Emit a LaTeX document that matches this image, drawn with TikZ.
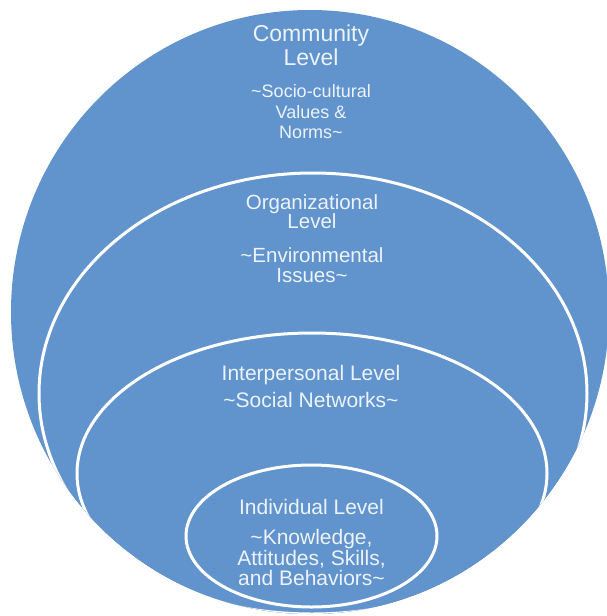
\documentclass[tikz,border=0pt]{standalone}
\usepackage{fontspec}
\setmainfont{Liberation Sans}
\definecolor{levelblue}{RGB}{97,147,204}
\definecolor{leveltext}{RGB}{236,243,251}
\begin{document}
\begin{tikzpicture}[x=1pt,y=-1pt,
  ring/.style={fill=levelblue,draw=white,line width=3pt},
  txt/.style={text=leveltext,anchor=base,inner sep=0pt},
  big/.style={font=\fontsize{23}{23}\selectfont},
  small/.style={font=\fontsize{18}{18}\selectfont},
  orgf/.style={font=\fontsize{20.5}{20.5}\selectfont},
  mid/.style={font=\fontsize{21}{21}\selectfont}]
\useasboundingbox (0,0) rectangle (607,616);
\fill[levelblue] (310,312) ellipse [x radius=299,y radius=302];
\begin{scope}
  \clip (310,312) ellipse [x radius=299,y radius=302];
  \path[ring] (313,393.5) ellipse [x radius=274,y radius=220.5];
  \path[ring] (312,473.5) ellipse [x radius=235,y radius=140.5];
  \path[ring] (311.5,536) ellipse [x radius=125.5,y radius=71];
\end{scope}
% Community
\node[txt,big] (c1) at (311,41.7) {Community};
\node[txt,big] (c2) at (311,65) {Level};
\node[txt,small] (c3) at (311,97) {\textasciitilde Socio-cultural};
\node[txt,small] (c4) at (311,118) {Values \&};
\node[txt,small] (c5) at (311,138.5) {Norms\textasciitilde};
% Organizational
\node[txt,orgf] (o1) at (312,209) {Organizational};
\node[txt,orgf] (o2) at (312,228.5) {Level};
\node[txt,orgf] (o3) at (312,262.5) {\textasciitilde Environmental};
\node[txt,orgf] (o4) at (312,282.5) {Issues\textasciitilde};
% Interpersonal
\node[txt,mid] (p1) at (311,380.7) {Interpersonal Level};
\node[txt,mid] (p2) at (311,407.3) {\textasciitilde Social Networks\textasciitilde};
% Individual
\node[txt,mid] (i1) at (311.5,514) {Individual Level};
\node[txt,mid] (i2) at (311.5,544) {\textasciitilde Knowledge,};
\node[txt,mid] (i3) at (311.5,565) {Attitudes, Skills,};
\node[txt,mid] (i4) at (311.5,585.7) {and Behaviors\textasciitilde};
\end{tikzpicture}
\end{document}
